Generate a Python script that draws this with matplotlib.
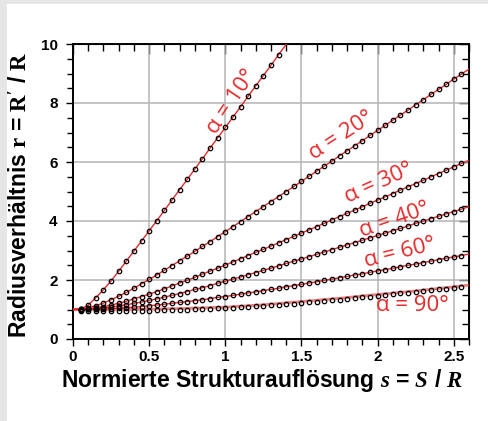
import matplotlib
matplotlib.use("Agg")
import matplotlib.pyplot as plt
from matplotlib.patches import Rectangle
from matplotlib.ticker import MultipleLocator

plt.rcParams['mathtext.fontset'] = 'custom'
plt.rcParams['mathtext.rm'] = 'Liberation Serif:bold'
plt.rcParams['mathtext.it'] = 'Liberation Serif:italic:bold'
plt.rcParams['font.family'] = ['Liberation Sans', 'DejaVu Sans']

# normalized resolution s (marker positions)
s_pts = [0.05, 0.10, 0.15, 0.20, 0.25, 0.30, 0.35, 0.40, 0.45, 0.50,
         0.55, 0.60, 0.65, 0.70, 0.75, 0.80, 0.85, 0.90, 0.95, 1.00,
         1.05, 1.10, 1.15, 1.20, 1.25, 1.30, 1.35, 1.40, 1.45, 1.50,
         1.55, 1.60, 1.65, 1.70, 1.75, 1.80, 1.85, 1.90, 1.95, 2.00,
         2.05, 2.10, 2.15, 2.20, 2.25, 2.30, 2.35, 2.40, 2.45, 2.50, 2.55]

# radius ratio r, one list per angle
r10 = [1.02, 1.15, 1.40, 1.67, 1.97, 2.30, 2.64, 2.98, 3.32, 3.67,
       4.01, 4.36, 4.71, 5.06, 5.41, 5.76, 6.11, 6.47, 6.82, 7.17,
       7.52, 7.87, 8.23, 8.58, 8.93, 9.28, 9.64]
r20 = [1.02, 1.06, 1.13, 1.22, 1.33, 1.45, 1.58, 1.72, 1.87, 2.02,
       2.17, 2.33, 2.49, 2.65, 2.81, 2.97, 3.14, 3.30, 3.47, 3.64,
       3.81, 3.98, 4.15, 4.32, 4.49, 4.66, 4.83, 5.00, 5.17, 5.34,
       5.52, 5.69, 5.86, 6.03, 6.21, 6.38, 6.55, 6.72, 6.90, 7.07,
       7.24, 7.42, 7.59, 7.76, 7.94, 8.11, 8.29, 8.46, 8.63, 8.81, 8.98]
r30 = [1.01, 1.03, 1.06, 1.10, 1.15, 1.21, 1.28, 1.36, 1.44, 1.52,
       1.61, 1.70, 1.80, 1.90, 1.99, 2.09, 2.20, 2.30, 2.40, 2.51,
       2.61, 2.72, 2.83, 2.94, 3.04, 3.15, 3.26, 3.37, 3.48, 3.59,
       3.70, 3.81, 3.92, 4.04, 4.15, 4.26, 4.37, 4.48, 4.60, 4.71,
       4.82, 4.93, 5.05, 5.16, 5.27, 5.38, 5.50, 5.61, 5.72, 5.84, 5.95]
r40 = [1.00, 1.01, 1.03, 1.06, 1.08, 1.12, 1.16, 1.21, 1.25, 1.31,
       1.36, 1.42, 1.48, 1.54, 1.61, 1.68, 1.74, 1.81, 1.89, 1.96,
       2.03, 2.10, 2.18, 2.25, 2.33, 2.40, 2.48, 2.56, 2.64, 2.71,
       2.79, 2.87, 2.95, 3.03, 3.11, 3.19, 3.27, 3.35, 3.43, 3.51,
       3.59, 3.67, 3.75, 3.83, 3.92, 4.00, 4.08, 4.16, 4.24, 4.32, 4.40]
r60 = [1.00, 1.01, 1.01, 1.02, 1.03, 1.05, 1.06, 1.08, 1.10, 1.13,
       1.15, 1.18, 1.21, 1.24, 1.27, 1.30, 1.33, 1.37, 1.41, 1.44,
       1.48, 1.52, 1.56, 1.60, 1.64, 1.68, 1.72, 1.77, 1.81, 1.85,
       1.90, 1.94, 1.99, 2.03, 2.08, 2.12, 2.17, 2.21, 2.26, 2.31,
       2.35, 2.40, 2.45, 2.50, 2.54, 2.59, 2.64, 2.69, 2.74, 2.78, 2.83]
r90 = [0.94, 0.94, 0.94, 0.94, 0.94, 0.95, 0.95, 0.95, 0.96, 0.96,
       0.97, 0.98, 0.99, 1.00, 1.00, 1.01, 1.02, 1.03, 1.04, 1.05,
       1.06, 1.08, 1.09, 1.11, 1.12, 1.14, 1.16, 1.18, 1.20, 1.22,
       1.24, 1.26, 1.28, 1.31, 1.33, 1.36, 1.38, 1.41, 1.44, 1.47,
       1.49, 1.52, 1.55, 1.57, 1.60, 1.63, 1.65, 1.68, 1.70, 1.73, 1.75]

# end points of the fitted red curves
end10 = (1.45, 10.34)
end20 = (2.60, 9.15)
end30 = (2.60, 6.06)
end40 = (2.60, 4.49)
end60 = (2.60, 2.88)
# fitted curve for 90 deg (drawn separately)
fit90_s = [0.0, 0.25, 0.5, 0.75, 1.0, 1.25, 1.5, 1.75, 2.0, 2.25, 2.5, 2.6]
fit90_r = [1.00, 1.00, 1.01, 1.04, 1.08, 1.16, 1.27, 1.38, 1.51, 1.63, 1.77, 1.83]

labels = ['α = 10°', 'α = 20°', 'α = 30°', 'α = 40°', 'α = 60°', 'α = 90°']
lab_s = [1.04, 1.76, 2.01, 2.11, 2.15, 2.23]
lab_r = [8.05, 6.89, 5.28, 4.03, 2.91, 1.13]
lab_rot = [56, 33, 24, 19, 14, 0]

red = '#e52a2a'

fig = plt.figure(figsize=(4.89, 4.21), dpi=100, facecolor='white')
# grey frame strips on the left and top
fig.patches.append(Rectangle((0, 0), 7/489, 1, transform=fig.transFigure,
                             facecolor='#e6e6e6', edgecolor='none', zorder=-1))
fig.patches.append(Rectangle((0, 1 - 4/421), 1, 4/421, transform=fig.transFigure,
                             facecolor='#e6e6e6', edgecolor='none', zorder=-1))
ax = fig.add_axes([73/489, 1 - 339/421, 396/489, 295/421])

for rr, end in [(r10, end10), (r20, end20), (r30, end30), (r40, end40), (r60, end60)]:
    n = len(rr)
    ax.plot([0.0] + s_pts[:n] + [end[0]], [1.0] + rr + [end[1]], color=red, lw=1.0, zorder=3)
ax.plot(fit90_s, fit90_r, color=red, lw=2.0, alpha=0.6, zorder=3)

for rr in [r10, r20, r30, r40, r60, r90]:
    ax.plot(s_pts[:len(rr)], rr, 'o', ms=3.2, mfc='none', mec='black', mew=0.9, zorder=4)

for t, x, y, rot in zip(labels, lab_s, lab_r, lab_rot):
    ax.text(x, y, t, color=red, fontsize=16, family=['Open Sans', 'DejaVu Sans'],
            rotation=rot, rotation_mode='anchor', ha='center', va='center', zorder=5)

ax.set_xlim(0, 2.6)
ax.set_ylim(0, 10)
ax.xaxis.set_major_locator(MultipleLocator(0.5))
ax.xaxis.set_minor_locator(MultipleLocator(0.1))
ax.yaxis.set_major_locator(MultipleLocator(2))
ax.yaxis.set_minor_locator(MultipleLocator(0.5))
ax.set_xticks([0, 0.5, 1, 1.5, 2, 2.5])
ax.set_xticklabels(['0', '0.5', '1', '1.5', '2', '2.5'])
ax.grid(True, which='major', color='#b4b4b4', lw=1.1)
ax.set_axisbelow(True)
for sp in ax.spines.values():
    sp.set_linewidth(1.4)

ax.tick_params(which='both', direction='out', width=1.0, labelsize=11)
ax.tick_params(axis='x', pad=3)
ax.tick_params(axis='y', pad=6)
ax.tick_params(which='major', length=5)
ax.tick_params(which='minor', length=4)
for lab in ax.get_xticklabels() + ax.get_yticklabels():
    lab.set_fontweight('bold')

# inward ticks on the top and right sides
sec_x = ax.secondary_xaxis('top')
sec_x.xaxis.set_major_locator(MultipleLocator(0.5))
sec_x.xaxis.set_minor_locator(MultipleLocator(0.1))
sec_x.tick_params(which='both', direction='in', width=1.0, labeltop=False)
sec_x.tick_params(which='major', length=7)
sec_x.tick_params(which='minor', length=5)
sec_y = ax.secondary_yaxis('right')
sec_y.yaxis.set_major_locator(MultipleLocator(2))
sec_y.yaxis.set_minor_locator(MultipleLocator(0.5))
sec_y.tick_params(which='both', direction='in', width=1.0, labelright=False)
sec_y.tick_params(which='major', length=7)
sec_y.tick_params(which='minor', length=5)

ax.set_xlabel('Normierte Strukturauflösung $s$ = $S$ / $R$', fontsize=16.5, fontweight='bold')
ax.xaxis.set_label_coords(0.478, -0.095)
ax.set_ylabel("Radiusverhältnis $\\mathrm{r}$ = $\\mathrm{R'}$ / $\\mathrm{R}$", fontsize=16.5, fontweight='bold')
ax.yaxis.set_label_coords(-0.103, 0.49)

fig.savefig('out.png', dpi=100, facecolor=fig.get_facecolor())
